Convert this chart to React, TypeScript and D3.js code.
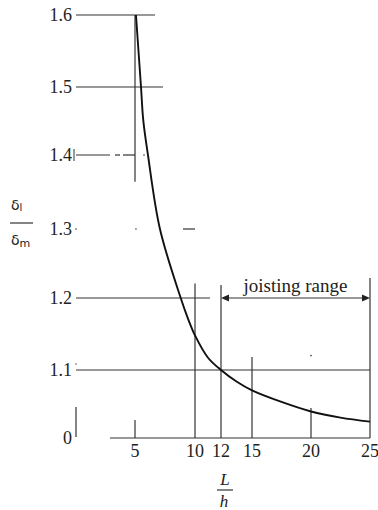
import React from "react";
import * as d3 from "d3";

// Deflection ratio δl/δm against span-to-depth ratio L/h
const spanRatio = [5.08, 5.5, 5.69, 6.08, 7.08, 8.81, 9.4, 10, 11, 12, 13.5, 15, 17.5, 20, 22.5, 25];
const deflectionRatio = [1.6, 1.5, 1.451, 1.4, 1.3, 1.2, 1.172, 1.148, 1.117, 1.1, 1.083, 1.07, 1.053, 1.039, 1.03, 1.024];

const xTickValues = [5, 10, 12, 15, 20, 25];
const xTickLabels = ["5", "10", "12", "15", "20", "25"];
const yTickValues = [1.0, 1.1, 1.2, 1.3, 1.4, 1.5, 1.6];
const yTickLabels = ["0", "1.1", "1.2", "1.3", "1.4", "1.5", "1.6"];

// Horizontal reference rules: ratio level and the L/h where each rule stops
const ruleLevels = [1.6, 1.5, 1.4, 1.2, 1.1];
const ruleEnds = [6.67, 7.33, 2.92, 11.15, 25];

// Vertical reference rules: L/h position and the ratio each rule rises to
const dropPositions = [10, 12, 15, 20, 25];
const dropTops = [1.221, 1.219, 1.118, 1.044, 1.229];

// Joisting range along the 1.2 level
const rangeStart = 12;
const rangeEnd = 25;
const rangeLevel = 1.2;

const W = 378;
const H = 510;
const axisX = 76;
const ink = "#333";

export default function App() {
  const x = d3.scaleLinear().domain(xTickValues).range([135, 195, 221, 252, 311, 370]);
  const y = d3.scaleLinear().domain(yTickValues).range([438, 370, 298, 229, 155, 87, 15]);

  const points: [number, number][] = spanRatio.map((v, i) => [x(v), y(deflectionRatio[i])]);
  const curvePath = d3.line().curve(d3.curveCatmullRom.alpha(0.5))(points) || "";

  const serif = "'Liberation Serif', 'Times New Roman', serif";
  const sans = "'DejaVu Sans', 'Liberation Sans', sans-serif";

  const arrowY = y(rangeLevel);
  const ax0 = x(rangeStart);
  const ax1 = x(rangeEnd);

  return (
    <svg
      width={W}
      height={H}
      viewBox={`0 0 ${W} ${H}`}
      style={{ position: "absolute", left: 0, top: 0, background: "#fff" }}
    >
      {/* horizontal rules */}
      {ruleLevels.map((v, i) => (
        <line
          key={`h${i}`}
          x1={axisX}
          x2={x(ruleEnds[i])}
          y1={y(v)}
          y2={y(v)}
          stroke={ink}
          strokeWidth={1.2}
        />
      ))}
      {/* broken continuation of the 1.4 rule */}
      <line x1={x(3.33)} x2={x(3.75)} y1={y(1.4)} y2={y(1.4)} stroke={ink} strokeWidth={1.2} />
      <line x1={x(4.0)} x2={x(5)} y1={y(1.4)} y2={y(1.4)} stroke={ink} strokeWidth={1.2} />
      <line x1={axisX - 2} x2={axisX - 2} y1={y(1.4) - 6} y2={y(1.4) + 6} stroke={ink} strokeWidth={1} />
      <circle cx={x(5.75)} cy={y(1.4)} r={0.8} fill={ink} />
      {/* fragments along the 1.3 level */}
      <circle cx={axisX} cy={y(1.3)} r={0.8} fill={ink} />
      <circle cx={x(5.08)} cy={y(1.3)} r={0.8} fill={ink} />
      <line x1={x(9.0)} x2={x(10)} y1={y(1.3)} y2={y(1.3)} stroke={ink} strokeWidth={1.2} />
      <circle cx={axisX} cy={y(1.1) - 6} r={0.7} fill={ink} />

      {/* vertical rule at L/h = 5 */}
      <line x1={x(5)} x2={x(5)} y1={y(1.6)} y2={y(1.364)} stroke={ink} strokeWidth={1.2} />

      {/* vertical rules dropping to the axis */}
      {dropPositions.map((v, i) => (
        <line
          key={`v${i}`}
          x1={x(v)}
          x2={x(v)}
          y1={y(dropTops[i])}
          y2={y(1.0)}
          stroke={ink}
          strokeWidth={1.2}
        />
      ))}
      <circle cx={x(20)} cy={y(1.12)} r={0.8} fill={ink} />

      {/* horizontal axis */}
      <line x1={110} x2={x(25)} y1={y(1.0)} y2={y(1.0)} stroke={ink} strokeWidth={1.2} />
      <line x1={x(5)} x2={x(5)} y1={y(1.0)} y2={y(1.0265)} stroke={ink} strokeWidth={1.2} />
      {/* stub of the broken vertical axis */}
      <line x1={axisX} x2={axisX} y1={y(1.0) - 31} y2={y(1.0) - 1} stroke={ink} strokeWidth={1.2} />

      {/* tick labels */}
      {yTickValues.map((v, i) => (
        <text
          key={`yl${i}`}
          x={axisX - 4}
          y={y(v) + 6}
          textAnchor="end"
          fontFamily={serif}
          fontSize={18}
          fill="#222"
        >
          {yTickLabels[i]}
        </text>
      ))}
      {xTickValues.map((v, i) => (
        <text
          key={`xl${i}`}
          x={x(v)}
          y={457}
          textAnchor="middle"
          fontFamily={serif}
          fontSize={18}
          fill="#222"
        >
          {xTickLabels[i]}
        </text>
      ))}

      {/* joisting range arrow */}
      <line x1={ax0 + 6} x2={ax1 - 6} y1={arrowY} y2={arrowY} stroke={ink} strokeWidth={1.2} />
      <path d={`M${ax0},${arrowY} L${ax0 + 8},${arrowY - 3.5} L${ax0 + 8},${arrowY + 3.5} Z`} fill="#222" />
      <path d={`M${ax1},${arrowY} L${ax1 - 8},${arrowY - 3.5} L${ax1 - 8},${arrowY + 3.5} Z`} fill="#222" />
      <text
        x={(ax0 + ax1) / 2}
        y={arrowY - 6}
        textAnchor="middle"
        fontFamily={serif}
        fontSize={19}
        fill="#222"
      >
        joisting range
      </text>

      {/* deflection ratio curve */}
      <path d={curvePath} fill="none" stroke="#111" strokeWidth={1.9} />

      {/* axis titles */}
      <text x={225} y={485} textAnchor="middle" fontFamily={serif} fontStyle="italic" fontSize={17} fill="#222">
        L
      </text>
      <line x1={217} x2={233} y1={490} y2={490} stroke={ink} strokeWidth={1.2} />
      <text x={224} y={507} textAnchor="middle" fontFamily={serif} fontStyle="italic" fontSize={17} fill="#222">
        h
      </text>

      <text x={11} y={210} fontFamily={sans} fontSize={14} fill="#222">
        δ<tspan fontSize={10} dy={1}>l</tspan>
      </text>
      <line x1={10} x2={33} y1={223} y2={223} stroke={ink} strokeWidth={1.2} />
      <text x={11} y={245} fontFamily={sans} fontSize={14} fill="#222">
        δ<tspan fontSize={11} dy={2}>m</tspan>
      </text>
    </svg>
  );
}
